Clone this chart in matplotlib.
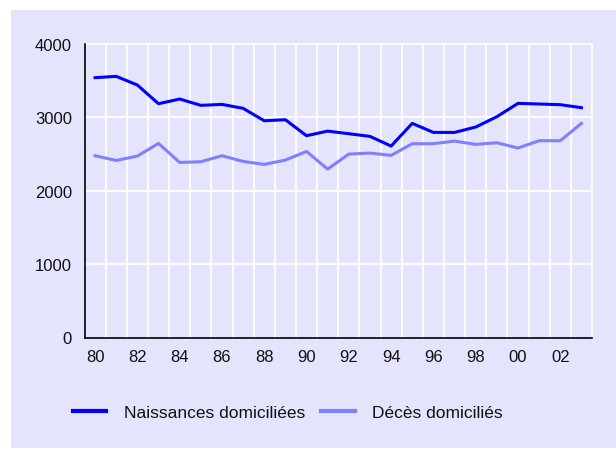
import matplotlib
matplotlib.use("Agg")
import matplotlib.pyplot as plt
from matplotlib.patches import Rectangle

years = list(range(1980, 2004))
naissances = [3541, 3559, 3441, 3186, 3250, 3164, 3177, 3123, 2954, 2968, 2750, 2813,
              2777, 2741, 2609, 2918, 2795, 2795, 2868, 3009, 3191, 3182, 3173, 3132]
deces = [2477, 2413, 2473, 2645, 2386, 2395, 2477, 2400, 2359, 2418, 2536, 2295,
         2500, 2513, 2482, 2641, 2641, 2677, 2632, 2654, 2582, 2682, 2682, 2918]
xtick_years = list(range(1980, 2004, 2))
xtick_labels = ["80", "82", "84", "86", "88", "90", "92", "94", "96", "98", "00", "02"]
yticks = [0, 1000, 2000, 3000, 4000]
series_names = ["Naissances domiciliées", "Décès domiciliés"]

plt.rcParams['font.family'] = ['Liberation Sans', 'DejaVu Sans']

W, H = 616, 452
fig = plt.figure(figsize=(W / 100, H / 100), dpi=100)
fig.patch.set_facecolor("white")
bg = "#E4E4FC"
rect = Rectangle((11 / W, 1 - 449 / H), 1 - 11 / W, (449 - 11) / H,
                 transform=fig.transFigure, facecolor=bg, edgecolor="none", zorder=-10)
fig.add_artist(rect)

left, right, top, bottom = 84.5, 592, 45, 338.5
ax = fig.add_axes([left / W, 1 - bottom / H, (right - left) / W, (bottom - top) / H])
ax.set_facecolor(bg)
ax.set_zorder(1)

ax.plot(years, naissances, color="#0000FF", lw=2.2, label=series_names[0], zorder=3)
ax.plot(years, deces, color="#8080FF", lw=2.2, label=series_names[1], zorder=3)

ax.set_xlim(1979.5, 2003.5)
ax.set_ylim(0, 4000)

# white grid lines
for b in range(1980, 2004):
    ax.axvline(b + 0.5, color="white", lw=1.3, zorder=1, clip_on=False)
for v in yticks[1:]:
    ax.axhline(v, color="white", lw=1.3, zorder=1, clip_on=False)

ax.set_xticks(xtick_years)
ax.set_xticklabels(xtick_labels, fontsize=12)
ax.set_yticks(yticks)
ax.set_yticklabels([str(v) for v in yticks], fontsize=12)
ax.tick_params(axis="both", length=0, colors="#111111")
ax.tick_params(axis="x", pad=8)
ax.tick_params(axis="y", pad=9)
for s in ["top", "right"]:
    ax.spines[s].set_visible(False)
for s in ["left", "bottom"]:
    ax.spines[s].set_color("black")
    ax.spines[s].set_linewidth(1.2)
    ax.spines[s].set_zorder(4)

leg = fig.legend(loc="center left", bbox_to_anchor=(57 / W, 1 - 413 / H), ncol=2, frameon=False,
                 fontsize=12.5, handlelength=1.95, handletextpad=1.0, columnspacing=0.9)
for line in leg.get_lines():
    line.set_linewidth(3)
for t in leg.get_texts():
    t.set_color("#111111")

fig.savefig("out.png", dpi=100, facecolor="white")
